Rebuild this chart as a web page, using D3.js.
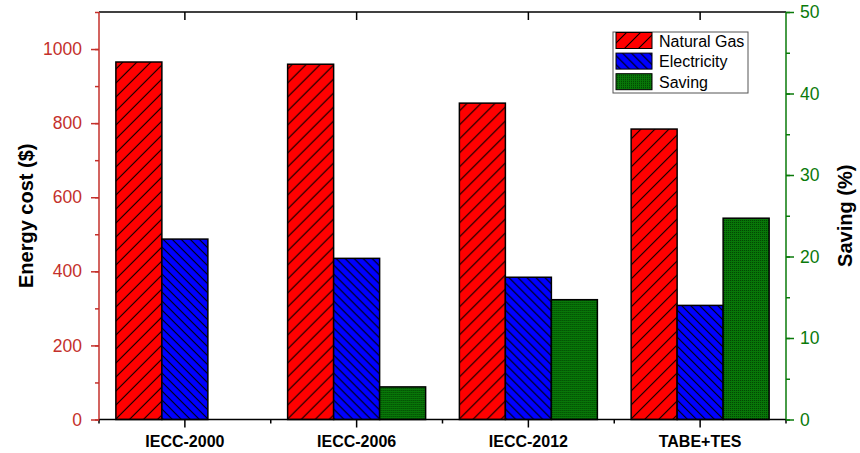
<!DOCTYPE html>
<html>
<head>
<meta charset="UTF-8">
<script src="https://cdn.jsdelivr.net/npm/d3@7/dist/d3.min.js"></script>
<style>
body{
    margin:0;
    background:#fff;
    font-family: "Liberation Sans", Arial, Helvetica, sans-serif;
}
</style>
</head>
<body>
<script>
// data
var categories = ["IECC-2000", "IECC-2006", "IECC-2012", "TABE+TES"]
var naturalGas = [965, 959, 854, 784]
var electricity = [487, 435, 384, 308]
var saving = [null, 4.0, 14.7, 24.7]
var costTicks = [0, 200, 400, 600, 800, 1000]
var savingTicks = [0, 10, 20, 30, 40, 50]

var width = 860
var height = 453
// plot area edges (not "top": that name is taken by window.top)
var plotL = 99, plotR = 786, plotT = 12, plotB = 419.5
var red = "#c4302b"
var green = "#0a7a0a"

var svg = d3.select("body").append("svg")
    .attr("width", width)
    .attr("height", height)

// fill patterns
var defs = svg.append("defs")
var pg = defs.append("pattern").attr("id", "gas")
    .attr("patternUnits", "userSpaceOnUse")
    .attr("width", 14).attr("height", 14)
pg.append("rect").attr("width", 14).attr("height", 14).attr("fill", "#ff0000")
pg.append("path").attr("d", "M0,14L14,0M-2,2L2,-2M12,16L16,12")
    .attr("stroke", "#000").attr("stroke-width", 1.1)

var pe = defs.append("pattern").attr("id", "elec")
    .attr("patternUnits", "userSpaceOnUse")
    .attr("width", 9).attr("height", 9)
pe.append("rect").attr("width", 9).attr("height", 9).attr("fill", "#0000ff")
pe.append("path").attr("d", "M0,0L9,9M-2,7L2,11M7,-2L11,2")
    .attr("stroke", "#000").attr("stroke-width", 1.1)

var ps = defs.append("pattern").attr("id", "save")
    .attr("patternUnits", "userSpaceOnUse")
    .attr("width", 2).attr("height", 2)
ps.append("rect").attr("width", 2).attr("height", 2).attr("fill", "#087808")
ps.append("rect").attr("width", 1).attr("height", 1).attr("fill", "#024002")

// scales
var x = d3.scaleBand().domain(categories).range([plotL, plotR])
var inner = d3.scaleBand().domain(["gas", "elec", "save"]).range([-69, 69])
var y = d3.scaleLinear().domain([0, 1100]).range([plotB, plotT])
var y2 = d3.scaleLinear().domain([0, 50]).range([plotB, plotT])

// bars
var rows = categories.map(function(c, i){
    return {cat: c, gas: naturalGas[i], elec: electricity[i], save: saving[i]}
})
var groups = svg.selectAll(".grp").data(rows).enter().append("g")
    .attr("transform", function(d){ return "translate(" + (x(d.cat) + x.bandwidth()/2) + ",0)" })

groups.append("rect")
    .attr("x", inner("gas")).attr("width", inner.bandwidth())
    .attr("y", function(d){ return y(d.gas) })
    .attr("height", function(d){ return plotB - y(d.gas) })
    .attr("fill", "url(#gas)").attr("stroke", "#000").attr("stroke-width", 1.5)

groups.append("rect")
    .attr("x", inner("elec")).attr("width", inner.bandwidth())
    .attr("y", function(d){ return y(d.elec) })
    .attr("height", function(d){ return plotB - y(d.elec) })
    .attr("fill", "url(#elec)").attr("stroke", "#000").attr("stroke-width", 1.5)

groups.filter(function(d){ return d.save != null }).append("rect")
    .attr("x", inner("save")).attr("width", inner.bandwidth())
    .attr("y", function(d){ return y2(d.save) })
    .attr("height", function(d){ return plotB - y2(d.save) })
    .attr("fill", "url(#save)").attr("stroke", "#000").attr("stroke-width", 1.5)

// bottom axis
var bottomAxis = svg.append("g").attr("transform", "translate(0," + plotB + ")")
bottomAxis.append("line").attr("x1", plotL).attr("x2", plotR).attr("stroke", "#000").attr("stroke-width", 1.5)
bottomAxis.selectAll(".maj").data(categories).enter().append("line")
    .attr("x1", function(d){ return x(d) + x.bandwidth()/2 })
    .attr("x2", function(d){ return x(d) + x.bandwidth()/2 })
    .attr("y1", 0).attr("y2", 8).attr("stroke", "#000").attr("stroke-width", 1.5)
bottomAxis.selectAll(".min").data(categories.concat(["end"])).enter().append("line")
    .attr("x1", function(d){ return d == "end" ? plotR : x(d) })
    .attr("x2", function(d){ return d == "end" ? plotR : x(d) })
    .attr("y1", 0).attr("y2", 4).attr("stroke", "#000").attr("stroke-width", 1.5)
bottomAxis.selectAll("text").data(categories).enter().append("text")
    .attr("x", function(d){ return x(d) + x.bandwidth()/2 })
    .attr("y", 27)
    .attr("text-anchor", "middle")
    .attr("font-size", 16).attr("font-weight", "bold")
    .text(function(d){ return d })

// top axis
var topAxis = svg.append("g").attr("transform", "translate(0," + plotT + ")")
topAxis.append("line").attr("x1", plotL).attr("x2", plotR).attr("stroke", "#000").attr("stroke-width", 1.5)
topAxis.selectAll(".maj").data(categories).enter().append("line")
    .attr("x1", function(d){ return x(d) + x.bandwidth()/2 })
    .attr("x2", function(d){ return x(d) + x.bandwidth()/2 })
    .attr("y1", 0).attr("y2", 8).attr("stroke", "#000").attr("stroke-width", 1.5)

// left axis
var leftAxis = svg.append("g").attr("transform", "translate(" + plotL + ",0)")
    .call(d3.axisLeft(y).tickValues(d3.range(0, 1101, 100)).tickSize(4).tickFormat(""))
leftAxis.append("g").call(d3.axisLeft(y).tickValues(costTicks).tickSize(8).tickPadding(9).tickFormat(d3.format("d")))
leftAxis.selectAll(".domain").remove()
leftAxis.append("line").attr("y1", plotT).attr("y2", plotB).attr("stroke", red).attr("stroke-width", 1.5)
leftAxis.selectAll(".tick line").attr("stroke", red).attr("stroke-width", 1.5)
leftAxis.selectAll(".tick text").attr("fill", red).attr("font-size", 17.5)
    .attr("font-family", "Liberation Sans, Arial, sans-serif")

// right axis
var rightAxis = svg.append("g").attr("transform", "translate(" + plotR + ",0)")
    .call(d3.axisRight(y2).tickValues(d3.range(0, 51, 5)).tickSize(4).tickFormat(""))
rightAxis.append("g").call(d3.axisRight(y2).tickValues(savingTicks).tickSize(8).tickPadding(6).tickFormat(d3.format("d")))
rightAxis.selectAll(".domain").remove()
rightAxis.append("line").attr("y1", plotT).attr("y2", plotB).attr("stroke", green).attr("stroke-width", 1.5)
rightAxis.selectAll(".tick line").attr("stroke", green).attr("stroke-width", 1.5)
rightAxis.selectAll(".tick text").attr("fill", green).attr("font-size", 17.5)
    .attr("font-family", "Liberation Sans, Arial, sans-serif")

// axis titles
svg.append("text")
    .attr("transform", "translate(33," + (plotT + plotB)/2 + ") rotate(-90)")
    .attr("text-anchor", "middle")
    .attr("font-size", 20).attr("font-weight", "bold")
    .text("Energy cost ($)")
svg.append("text")
    .attr("transform", "translate(852," + (plotT + plotB)/2 + ") rotate(-90)")
    .attr("text-anchor", "middle")
    .attr("font-size", 20).attr("font-weight", "bold")
    .text("Saving (%)")

// legend
var legendItems = [
    {label: "Natural Gas", fill: "url(#gas)"},
    {label: "Electricity", fill: "url(#elec)"},
    {label: "Saving", fill: "url(#save)"}
]
var legend = svg.append("g").attr("transform", "translate(613,32)")
legend.append("rect").attr("width", 135).attr("height", 61)
    .attr("fill", "#fff").attr("stroke", "#555").attr("stroke-width", 1)
var li = legend.selectAll(".li").data(legendItems).enter().append("g")
    .attr("transform", function(d, i){ return "translate(0," + (i * 20.6) + ")" })
li.append("rect").attr("x", 3).attr("y", 0.5).attr("width", 36).attr("height", 16)
    .attr("fill", function(d){ return d.fill }).attr("stroke", "#000").attr("stroke-width", 1)
li.append("text").attr("x", 46).attr("y", 14.5)
    .attr("font-size", 16)
    .text(function(d){ return d.label })
</script>
</body>
</html>
